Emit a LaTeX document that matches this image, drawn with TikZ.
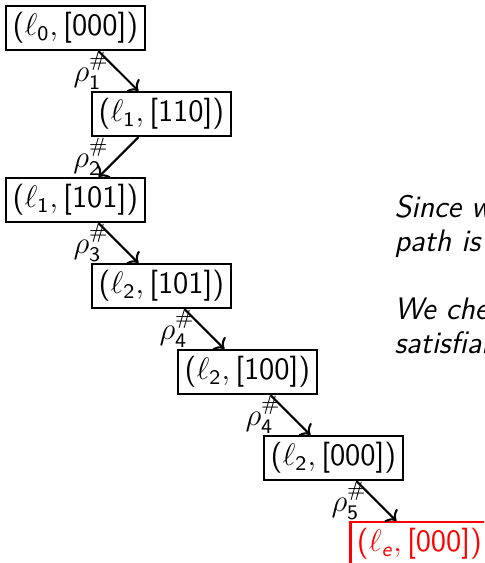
\documentclass[tikz,border=0pt]{standalone}
\usepackage{amssymb}
\usepackage{amsmath}
\usepackage{tikz}
\usetikzlibrary{arrows.meta, calc}
% sans digits, brackets and # in math, as on the slide
\SetSymbolFont{operators}{normal}{OT1}{cmss}{m}{n}
\newcommand{\loc}[2]{$(\ell_{#1}, [#2])$}

\begin{document}
\begin{tikzpicture}[x=33.2pt, y=33.2pt,
                    every node/.style={font=\fontsize{12}{14.5}\selectfont},
                    state/.style={draw, thick, rectangle, inner sep=2.5pt},
                    errstate/.style={state, draw=red, text=red},
                    trans/.style={->, thick},
                    note/.style={anchor=base west, inner sep=0pt, font=\fontsize{12}{14.5}\selectfont\sffamily\itshape}]

            \clip (-0.878,0.326) rectangle (4.75,-6.22);

            \node[state] (s0) at (0,0)  {\loc{0}{000}};
            \node[state] (s1) at (1,-1) {\loc{1}{110}};
            \node[state] (s2) at (0,-2) {\loc{1}{101}};
            \node[state] (s3) at (1,-3) {\loc{2}{101}};
            \node[state] (s4) at (2,-4) {\loc{2}{100}};
            \node[state] (s5) at (3,-5) {\loc{2}{000}};
            \node[errstate] (s6) at (4,-6) {\loc{\textsf{\textit{e}}}{000}};

            \draw[trans] (s0) -- node[left] {$\rho_1^{\#}$} (s1);
            \draw[trans] (s1) -- node[left] {$\rho_2^{\#}$} (s2);
            \draw[trans] (s2) -- node[left] {$\rho_3^{\#}$} (s3);
            \draw[trans] (s3) -- node[left] {$\rho_4^{\#}$} (s4);
            \draw[trans] (s4) -- node[left] {$\rho_4^{\#}$} (s5);
            \draw[trans] (s5) -- node[left] {$\rho_5^{\#}$} (s6);

            \node[note] (t1) at (3.703,-2.198) {Since w};
            \node[note] (t2) at (3.703,-2.593) {path is};
            \node[note] (t3) at (3.703,-3.384) {We che};
            \node[note] (t4) at (3.703,-3.779) {satisfiab};
        \end{tikzpicture}
\end{document}
